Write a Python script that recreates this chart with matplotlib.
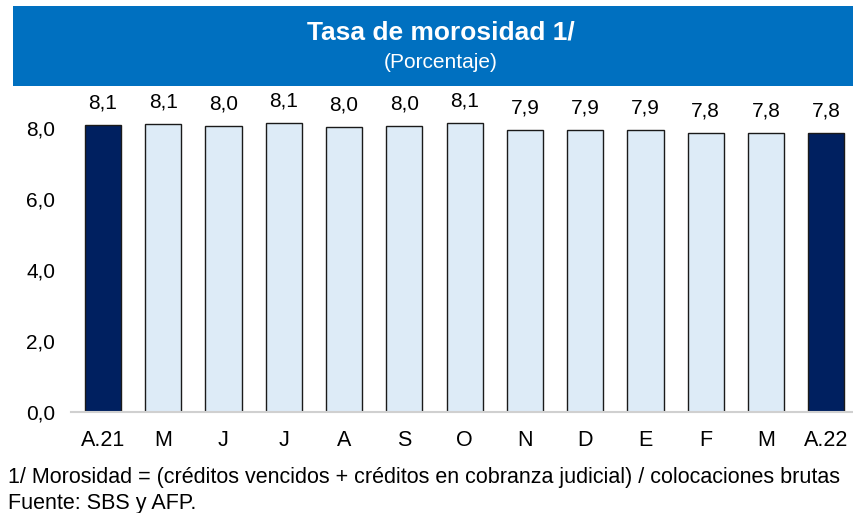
import matplotlib
matplotlib.use("Agg")
import matplotlib.pyplot as plt
from matplotlib.patches import Rectangle

categories = ["A.21", "M", "J", "J", "A", "S", "O", "N", "D", "E", "F", "M", "A.22"]
values = [8.07, 8.09, 8.04, 8.14, 8.02, 8.04, 8.12, 7.94, 7.92, 7.92, 7.85, 7.85, 7.84]
yticks = [0, 2, 4, 6, 8]
title = "Tasa de morosidad 1/"
subtitle = "(Porcentaje)"
footnotes = ["1/ Morosidad = (créditos vencidos + créditos en cobranza judicial) / colocaciones brutas",
             "Fuente: SBS y AFP."]

plt.rcParams["font.family"] = ["Liberation Sans", "DejaVu Sans"]

W, H = 854, 513
fig = plt.figure(figsize=(W / 100, H / 100), dpi=100)

# Title band
fig.patches.append(Rectangle((13 / W, 1 - 86 / H), 1 - 13 / W, 80 / H,
                             transform=fig.transFigure, facecolor="#0070C0",
                             edgecolor="none", zorder=0))
fig.text(441 / W, 1 - 33 / H, title, color="white", fontsize=19, fontweight="bold",
         ha="center", va="center")
fig.text(441 / W, 1 - 62 / H, subtitle, color="white", fontsize=15,
         ha="center", va="center")

ax = fig.add_axes([71 / W, 101 / H, 1 - 71 / W, 320 / H])
n = len(values)
x = list(range(n))
colors = ["#002060" if i in (0, n - 1) else "#DDEBF7" for i in range(n)]
ax.bar(x, values, width=0.6, color=colors, edgecolor="#1a1a1a", linewidth=1.0, zorder=2)
for xi, v in zip(x, values):
    ax.annotate(f"{v:.1f}".replace(".", ","), (xi, v), xytext=(0, 9), textcoords="offset points",
                ha="center", va="bottom", fontsize=15)

ax.set_xlim(-0.53, 12.46)
ax.set_ylim(0, 9)
ax.set_yticks(yticks)
ax.set_yticklabels([f"{t:.1f}".replace(".", ",") for t in yticks], fontsize=15)
ax.set_xticks(x)
ax.set_xticklabels(categories, fontsize=15.5)
ax.tick_params(axis="both", length=0)
ax.tick_params(axis="x", pad=13)
ax.tick_params(axis="y", pad=11.5)
for s in ("top", "right", "left"):
    ax.spines[s].set_visible(False)
ax.spines["bottom"].set_color("#d0d0d0")
ax.spines["bottom"].set_linewidth(1.5)
ax.patch.set_alpha(0)

fig.text(8 / W, 1 - 478 / H, footnotes[0], fontsize=15.5, ha="left", va="center")
fig.text(8 / W, 1 - 503 / H, footnotes[1], fontsize=15.5, ha="left", va="center")

fig.savefig("out.png", dpi=100)
